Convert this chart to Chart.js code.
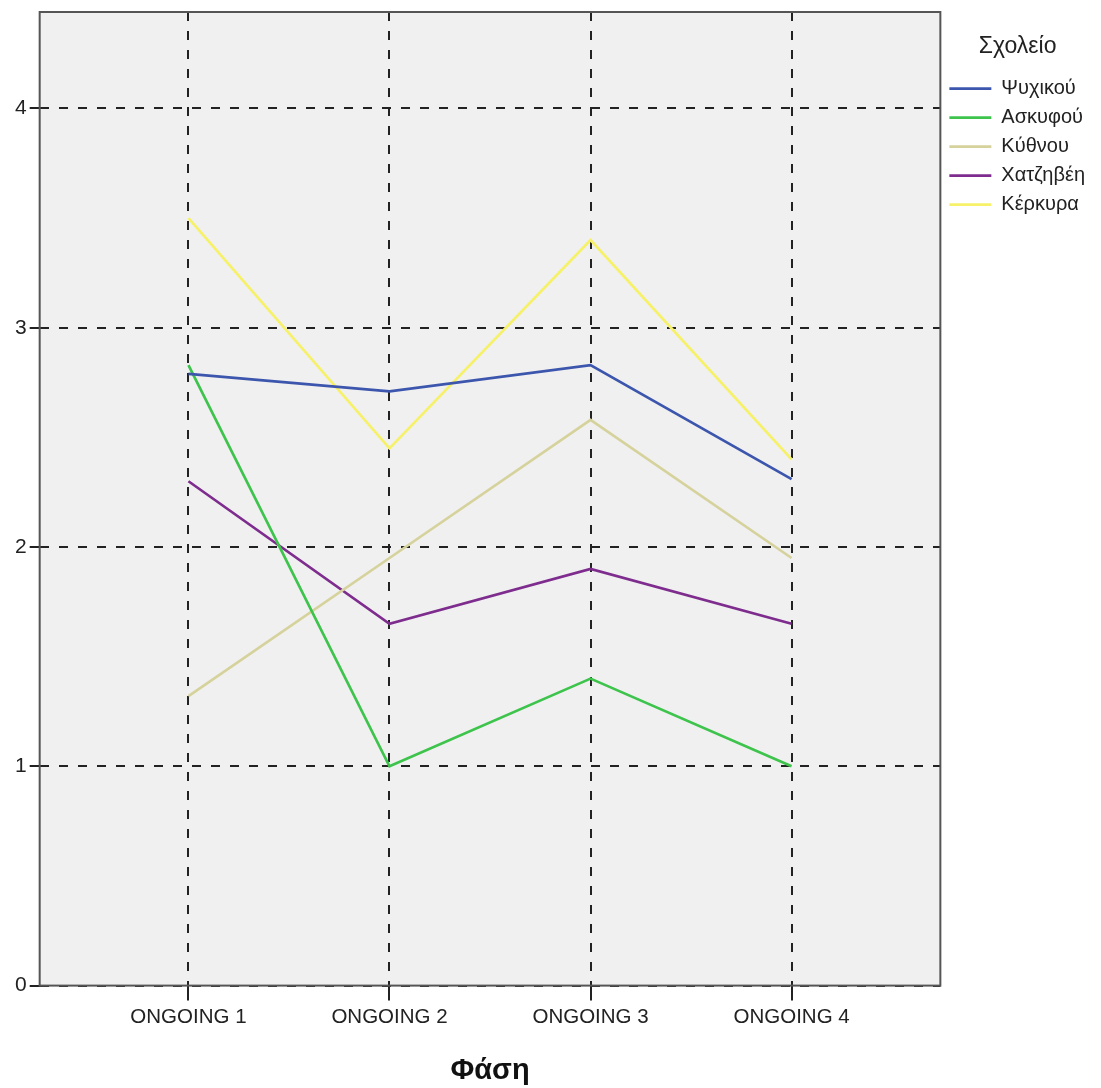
<!DOCTYPE html>
<html>
<head>
<meta charset="utf-8">
<script src="https://cdn.jsdelivr.net/npm/chart.js@4/dist/chart.umd.min.js"></script>
<style>
  html, body { margin: 0; padding: 0; background: #fff; }
  #wrap { width: 1101px; height: 1088px; }
</style>
</head>
<body>
<div id="wrap"><canvas id="chart" width="1101" height="1088"></canvas></div>
<script>
// Data
const categories = ['ONGOING 1', 'ONGOING 2', 'ONGOING 3', 'ONGOING 4'];
const schools = ['Ψυχικού', 'Ασκυφού', 'Κύθνου', 'Χατζηβέη', 'Κέρκυρα'];
const psychikou = [2.79, 2.71, 2.83, 2.31];
const askyfou = [2.83, 1.00, 1.40, 1.00];
const kythnou = [1.32, 1.95, 2.58, 1.95];
const chatzivei = [2.30, 1.65, 1.90, 1.65];
const kerkyra = [3.50, 2.45, 3.40, 2.40];
const yTicks = [0, 1, 2, 3, 4];

const colors = ['#3d56ad', '#3ec44c', '#d6d29c', '#7e2d8e', '#f6f168'];
const seriesValues = [psychikou, askyfou, kythnou, chatzivei, kerkyra];

const FONT = "'Liberation Sans', Arial, sans-serif";

// plot background + frame
const plotFrame = {
    id: 'plotFrame',
    beforeDraw(chart) {
        const { ctx, chartArea: a } = chart;
        ctx.save();
        ctx.fillStyle = '#f0f0f0';
        ctx.fillRect(a.left, a.top, a.right - a.left, a.bottom - a.top);
        ctx.restore();
    },
    afterDraw(chart) {
        const { ctx, chartArea: a } = chart;
        ctx.save();
        ctx.strokeStyle = '#555';
        ctx.lineWidth = 2;
        ctx.strokeRect(a.left, a.top, a.right - a.left, a.bottom - a.top);
        ctx.restore();
    }
};

const ctx = document.getElementById('chart').getContext('2d');
new Chart(ctx, {
    type: 'line',
    data: {
        datasets: schools.map((name, i) => ({
            label: name,
            data: seriesValues[i].map((v, j) => ({ x: j + 1, y: v })),
            borderColor: colors[i],
            backgroundColor: colors[i],
            borderWidth: 2.7,
            pointRadius: 0,
            pointStyle: 'line',
            tension: 0
        }))
    },
    options: {
        responsive: false,
        animation: false,
        layout: {
            padding: { left: 12, top: 12, right: 6, bottom: 0 }
        },
        plugins: {
            legend: {
                position: 'right',
                align: 'start',
                title: {
                    display: true,
                    text: 'Σχολείο',
                    color: '#222',
                    font: { family: FONT, size: 23 },
                    padding: { top: 23, bottom: 7 }
                },
                labels: {
                    usePointStyle: true,
                    pointStyle: 'line',
                    pointStyleWidth: 42,
                    boxHeight: 20,
                    color: '#222',
                    padding: 9,
                    font: { family: FONT, size: 20 }
                }
            },
            tooltip: { enabled: false }
        },
        scales: {
            x: {
                type: 'linear',
                min: 0.26,
                max: 4.74,
                z: 1,
                afterBuildTicks: scale => {
                    scale.ticks = categories.map((c, i) => ({ value: i + 1 }));
                },
                ticks: {
                    color: '#222',
                    padding: 4,
                    font: { family: FONT, size: 20.5 },
                    callback: v => categories[v - 1]
                },
                grid: {
                    color: '#222',
                    lineWidth: 2,
                    tickColor: '#222',
                    tickLength: 15,
                    tickBorderDash: []
                },
                border: { display: false, dash: [9, 10] },
                title: {
                    display: true,
                    text: 'Φάση',
                    color: '#111',
                    font: { family: FONT, size: 29, weight: 'bold' },
                    padding: { top: 20, bottom: 0 }
                }
            },
            y: {
                type: 'linear',
                min: 0,
                max: 4.44,
                z: 1,
                afterBuildTicks: scale => {
                    scale.ticks = yTicks.map(v => ({ value: v }));
                },
                // top tick label sits well below the top edge, no reserve needed
                afterFit: scale => {
                    scale.paddingTop = 0;
                },
                ticks: {
                    color: '#222',
                    padding: 3,
                    font: { family: FONT, size: 21 }
                },
                grid: {
                    color: '#222',
                    lineWidth: 2,
                    tickColor: '#222',
                    tickLength: 10,
                    tickBorderDash: []
                },
                border: { display: false, dash: [9, 10] }
            }
        }
    },
    plugins: [plotFrame]
});
</script>
</body>
</html>
